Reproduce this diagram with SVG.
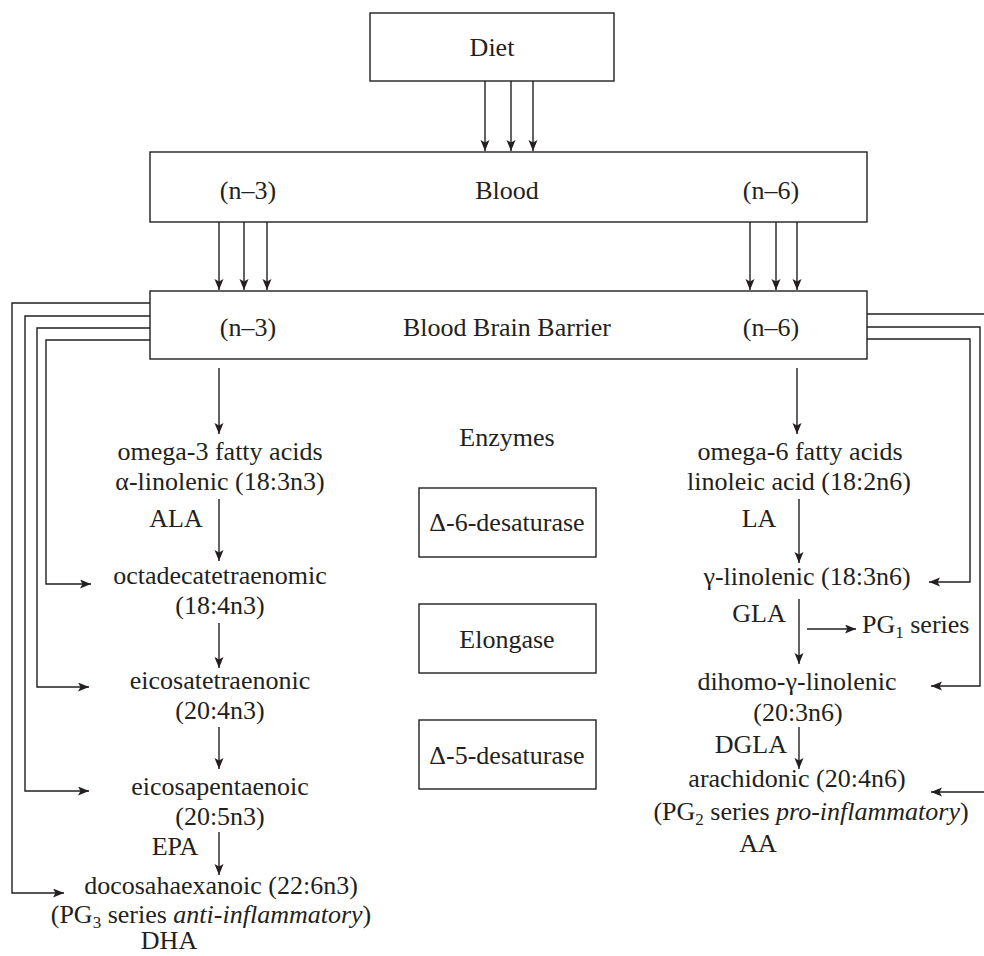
<svg xmlns="http://www.w3.org/2000/svg" width="984" height="956" viewBox="0 0 984 956">
<defs>
<style>
text{font-family:"Liberation Serif","Times New Roman",serif;font-size:26px;fill:#231f20}
.c{text-anchor:middle}
.e{text-anchor:end}
.box{fill:#fff;stroke:#231f20;stroke-width:1.4}
.ln{fill:none;stroke:#231f20;stroke-width:1.4}
.ar{fill:none;stroke:#231f20;stroke-width:1.4;marker-end:url(#ah)}
.sub{font-size:17px}
.i{font-style:italic}
</style>
<marker id="ah" markerUnits="userSpaceOnUse" markerWidth="12" markerHeight="10" refX="11" refY="4.5" orient="auto">
<path d="M0,0 L11,4.5 L0,9 L2.5,4.5 z" fill="#231f20"/>
</marker>
</defs>
<rect width="984" height="956" fill="#fff"/>

<g id="diet"><rect class="box" x="370" y="13" width="244" height="68"/><text class="c" x="492" y="56">Diet</text></g>
<g id="blood"><rect class="box" x="150" y="152" width="717" height="70"/>
<text class="c" x="248" y="199">(n–3)</text><text class="c" x="507" y="199">Blood</text><text class="c" x="771" y="199">(n–6)</text></g>
<g id="bbb"><rect class="box" x="150" y="291" width="717" height="68"/>
<text class="c" x="248" y="336">(n–3)</text><text class="c" x="507" y="336">Blood Brain Barrier</text><text class="c" x="771" y="336">(n–6)</text></g>

<g id="enzymes"><text class="c" x="507" y="446">Enzymes</text></g>
<g id="d6"><rect class="box" x="419" y="488" width="177" height="69"/><text class="c" x="507" y="531">Δ-6-desaturase</text></g>
<g id="elong"><rect class="box" x="419" y="604" width="177" height="69"/><text class="c" x="507" y="648">Elongase</text></g>
<g id="d5"><rect class="box" x="419" y="720" width="177" height="69"/><text class="c" x="507" y="764">Δ-5-desaturase</text></g>

<g id="ala"><text class="c" x="220" y="460">omega-3 fatty acids</text><text class="c" x="220" y="490">α-linolenic (18:3n3)</text><text class="c" x="176" y="527">ALA</text></g>
<g id="octa"><text class="c" x="220" y="584">octadecatetraenomic</text><text class="c" x="220" y="614">(18:4n3)</text></g>
<g id="eicosatetra"><text class="c" x="220" y="689">eicosatetraenonic</text><text class="c" x="220" y="719">(20:4n3)</text></g>
<g id="epa"><text class="c" x="220" y="795">eicosapentaenoic</text><text class="c" x="220" y="825">(20:5n3)</text><text class="c" x="175" y="855">EPA</text></g>
<g id="dha"><text class="c" x="221" y="894">docosahaexanoic (22:6n3)</text>
<text class="c" x="211" y="923">(PG<tspan class="sub" dy="5">3</tspan><tspan dy="-5"> series </tspan><tspan class="i">anti-inflammatory</tspan>)</text>
<text class="c" x="169" y="949">DHA</text></g>

<g id="la"><text class="c" x="800" y="460">omega-6 fatty acids</text><text class="c" x="799" y="490">linoleic acid (18:2n6)</text><text class="c" x="759" y="527">LA</text></g>
<g id="gla"><text class="c" x="807" y="585">γ-linolenic (18:3n6)</text><text class="c" x="759" y="622">GLA</text></g>
<g id="pg1"><text x="862" y="633">PG<tspan class="sub" dy="5">1</tspan><tspan dy="-5"> series</tspan></text></g>
<g id="dgla"><text class="c" x="797" y="690">dihomo-γ-linolenic</text><text class="c" x="798" y="721">(20:3n6)</text><text class="e" x="787" y="753">DGLA</text></g>
<g id="aa"><text class="c" x="797" y="787">arachidonic (20:4n6)</text>
<text class="c" x="811" y="820">(PG<tspan class="sub" dy="5">2</tspan><tspan dy="-5"> series </tspan><tspan class="i">pro-inflammatory</tspan>)</text>
<text class="c" x="758" y="852">AA</text></g>

<g id="connectors">
<line class="ar" x1="485" y1="81" x2="485" y2="151"/>
<line class="ar" x1="511" y1="81" x2="511" y2="151"/>
<line class="ar" x1="533" y1="81" x2="533" y2="151"/>
<line class="ar" x1="219" y1="222" x2="219" y2="290"/>
<line class="ar" x1="244" y1="222" x2="244" y2="290"/>
<line class="ar" x1="267" y1="222" x2="267" y2="290"/>
<line class="ar" x1="750" y1="222" x2="750" y2="290"/>
<line class="ar" x1="776" y1="222" x2="776" y2="290"/>
<line class="ar" x1="797" y1="222" x2="797" y2="290"/>
<line class="ar" x1="219" y1="368" x2="219" y2="434"/>
<line class="ar" x1="797" y1="368" x2="797" y2="434"/>
<line class="ar" x1="219" y1="499" x2="219" y2="561"/>
<line class="ar" x1="219" y1="623" x2="219" y2="668"/>
<line class="ar" x1="219" y1="727" x2="219" y2="769"/>
<line class="ar" x1="219" y1="832" x2="219" y2="875"/>
<line class="ar" x1="799" y1="499" x2="799" y2="563"/>
<line class="ar" x1="799" y1="599" x2="799" y2="664"/>
<line class="ar" x1="799" y1="727" x2="799" y2="769"/>
<line class="ar" x1="807" y1="629" x2="856" y2="629"/>
<path class="ar" d="M150,303 H12 V893 H64"/>
<path class="ar" d="M150,316 H25 V791 H89"/>
<path class="ar" d="M150,328 H37 V687 H89"/>
<path class="ar" d="M150,340 H46 V584 H91"/>
<path class="ar" d="M867,314 H992 V792 H931"/>
<path class="ar" d="M867,327 H980 V686 H931"/>
<path class="ar" d="M867,339 H970 V582 H929"/>
</g>
</svg>
